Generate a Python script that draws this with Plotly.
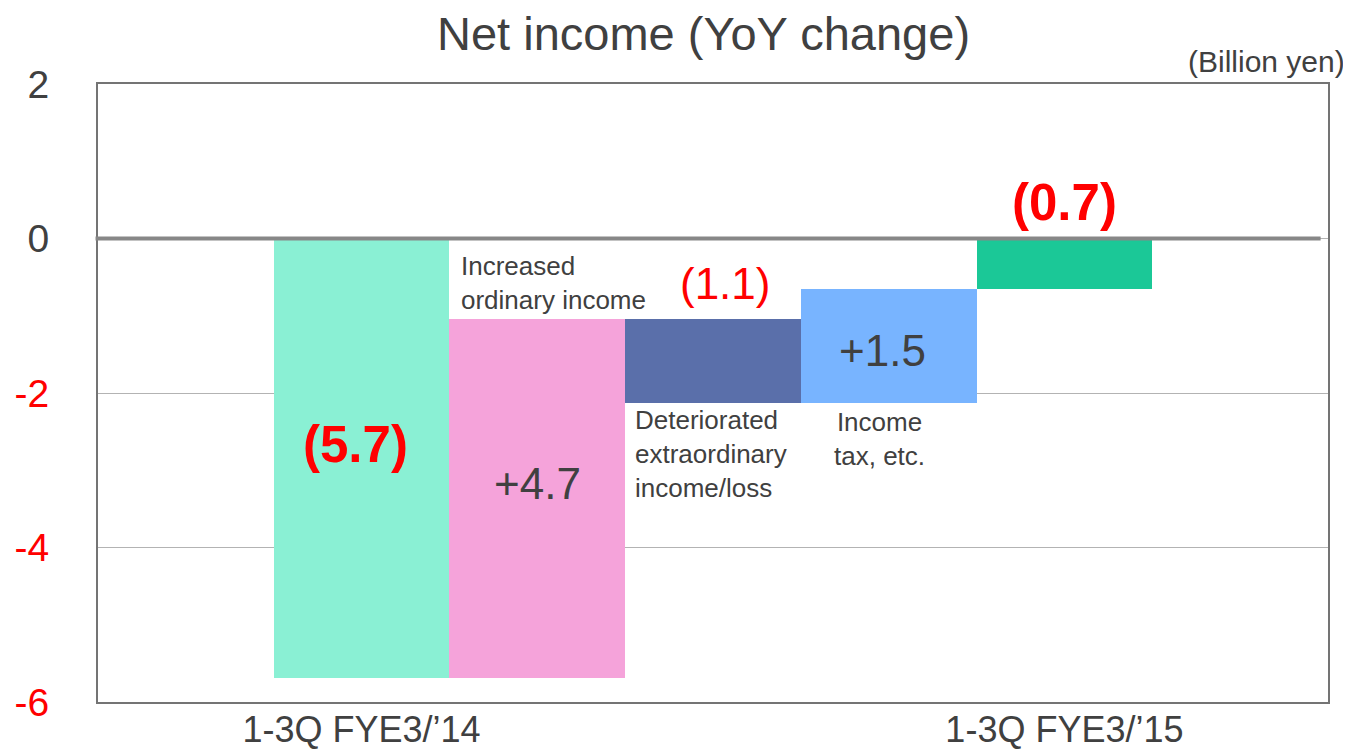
import plotly.graph_objects as go

# waterfall steps, billion yen
steps = ["1-3Q FYE3/’14", "Increased ordinary income", "Deteriorated extraordinary income/loss",
         "Income tax, etc.", "1-3Q FYE3/’15"]
slot = [1, 2, 3, 4, 5]
bar_base = [0, -5.69, -1.04, -2.13, 0]
bar_top = [-5.69, -1.04, -2.13, -0.65, -0.65]
bar_colors = ["#8AF0D4", "#F5A3DA", "#5A6FAA", "#78B4FF", "#1BC897"]

y_ticks = [2, 0, -2, -4, -6]
x_tick_slots = [1, 5]
x_tick_labels = ["1-3Q FYE3/’14", "1-3Q FYE3/’15"]

GRAY = "#404040"
RED = "#FF0000"
FONT = "Liberation Sans, Arial, sans-serif"

fig = go.Figure()
fig.add_trace(go.Bar(
    x=slot,
    y=[t - b for t, b in zip(bar_top, bar_base)],
    base=bar_base,
    width=1,
    marker=dict(color=bar_colors, line=dict(width=0)),
    hovertext=steps,
    showlegend=False
))

y_text = []
for v in y_ticks:
    c = RED if v < 0 else GRAY
    y_text.append("<span style='color:%s'>%d</span>" % (c, v))

def note(x, y, text, size, color=GRAY, xanchor="center", align="center"):
    fig.add_annotation(x=x, y=y, xref="x", yref="y", text=text, showarrow=False,
                       xanchor=xanchor, yanchor="middle", align=align,
                       font=dict(size=size, color=color, family=FONT))

note(0.963, -2.67, "<b>(5.7)</b>", 51, RED)
note(2.0, -3.17, "+4.7", 44)
note(1.555, -0.57, "Increased<br>ordinary income", 26, xanchor="left", align="left")
note(3.069, -0.58, "(1.1)", 44, RED)
note(2.546, -2.795, "Deteriorated<br>extraordinary<br>income/loss", 26, xanchor="left", align="left")
note(3.962, -1.45, "+1.5", 44)
note(3.95, -2.59, "Income<br>tax, etc.", 26)
note(4.998, 0.46, "<b>(0.7)</b>", 51, RED)

fig.add_annotation(x=1.0155, y=1.037, xref="paper", yref="paper", text="(Billion yen)",
                   showarrow=False, xanchor="right", yanchor="middle",
                   font=dict(size=30, color=GRAY, family=FONT))

# thick zero line drawn over the bars
fig.add_shape(type="line", xref="paper", yref="y", x0=-0.002, x1=0.994, y0=0, y1=0,
              line=dict(color="#878787", width=4), layer="above")

# page body has an 8px margin, so the figure is 8px smaller than the window
fig.update_layout(
    width=1343, height=742,
    margin=dict(l=90, r=23, t=76, b=48),
    paper_bgcolor="white", plot_bgcolor="white",
    bargap=0,
    font=dict(family=FONT, color=GRAY),
    title=dict(text="Net income (YoY change)", x=0.5179, xref="container", xanchor="center",
               y=0.965, yref="container", yanchor="middle",
               font=dict(size=47, color=GRAY, family=FONT)),
)
fig.update_xaxes(range=[-0.5, 6.5], tickvals=x_tick_slots, ticktext=x_tick_labels,
                 showgrid=False, zeroline=False, showline=True, mirror=True,
                 linecolor="#747474", linewidth=2, ticks="", automargin=False,
                 tickfont=dict(size=36, color=GRAY, family=FONT), ticklabelstandoff=-5)
fig.update_yaxes(range=[-6, 2], tickvals=y_ticks, ticktext=y_text,
                 showgrid=True, gridcolor="#b3b3b3", gridwidth=1, zeroline=False,
                 showline=True, mirror=True, linecolor="#747474", linewidth=2, ticks="",
                 automargin=False,
                 tickfont=dict(size=39, color=GRAY, family=FONT), ticklabelstandoff=39)

fig.write_html("out.html")
